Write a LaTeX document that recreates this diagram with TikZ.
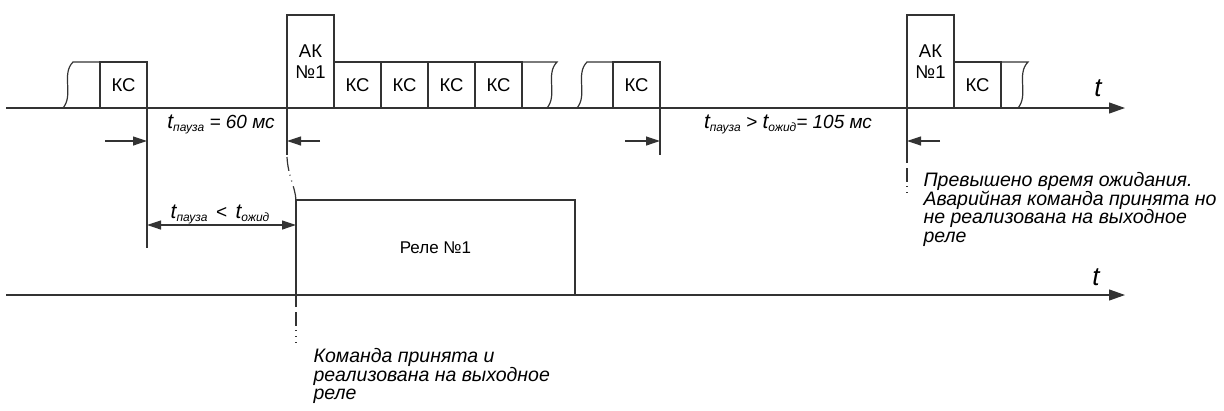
\documentclass[tikz,border=0pt]{standalone}
\usepackage{fontspec}
\setmainfont{Liberation Sans}
\usetikzlibrary{arrows.meta}
\newcommand{\tsub}[1]{{\fontsize{21}{21}\selectfont\itshape t}\raisebox{-3.5pt}{\fontsize{12}{12}\selectfont\itshape #1}}

\begin{document}
\begin{tikzpicture}[x=1pt, y=1pt, line width=1.2pt, draw=black!80,
    frame/.style={draw, minimum width=47pt, minimum height=46pt, inner sep=0pt, outer sep=0pt,
        anchor=south west, font=\fontsize{18.5}{18.5}\selectfont},
    akframe/.style={frame, minimum height=93pt, align=center, font=\fontsize{18.5}{21}\selectfont},
    axis/.style={-{Triangle[length=16pt,width=11pt]}},
    dim/.style={-{Triangle[length=14pt,width=9pt]}},
    dimboth/.style={{Triangle[length=14pt,width=9pt]}-{Triangle[length=14pt,width=9pt]}},
    dashdot/.style={dash pattern=on 14pt off 4pt on 1pt off 5pt on 1pt off 5pt},
    dimtext/.style={inner sep=0pt, anchor=base, font=\fontsize{19}{19}\selectfont\itshape},
    note/.style={anchor=north west, align=left, inner sep=0pt,
        font=\fontsize{19.5}{18.5}\selectfont\itshape},
    tlabel/.style={inner sep=0pt, font=\fontsize{26}{26}\selectfont\itshape}]
    \useasboundingbox (0,0) rectangle (1224,-410);

    \draw[axis] (6,-108) -- (1125,-108);
    \node[tlabel] (t1) at (1098,-88) {t};
    \draw[axis] (6,-295) -- (1125,-295);
    \node[tlabel] (t2) at (1096,-277) {t};

    \node[frame] (kc1) at (100,-108) {КС};
    \node[akframe] (ak1) at (287,-108) {АК\\№1};
    \node[frame] (kc2) at (ak1.south east) {КС};
    \node[frame] (kc3) at (kc2.south east) {КС};
    \node[frame] (kc4) at (kc3.south east) {КС};
    \node[frame] (kc5) at (kc4.south east) {КС};
    \node[frame] (kc6) at (613,-108) {КС};
    \node[akframe] (ak2) at (907,-108) {АК\\№1};
    \node[frame] (kc7) at (ak2.south east) {КС};

    \draw (63,-108) .. controls (74,-95) and (61,-74) .. (73,-62) -- (kc1.north west);
    \draw (kc5.north east) -- (557,-62) .. controls (545,-74) and (558,-95) .. (547,-108);
    \draw (577,-108) .. controls (588,-95) and (575,-74) .. (587,-62) -- (kc6.north west);
    \draw (kc7.north east) -- (1028,-62) .. controls (1016,-74) and (1029,-95) .. (1018,-108);

    \node[minimum width=279pt, minimum height=95pt, inner sep=0pt, outer sep=0pt, anchor=south west,
        font=\fontsize{17}{17}\selectfont] (rele) at (296,-295) {Реле №1};
    \draw (296,-307) -- (rele.north west) -- (rele.north east) -- (rele.south east);
    \draw[dashdot] (296,-312) -- (296,-343);

    \draw (kc1.south east) -- ++(0,-140);
    \draw (ak1.south west) -- ++(0,-47);
    \draw[dashdot] (287,-157) .. controls (288,-176) and (295,-186) .. (rele.north west);
    \draw[dim] (105,-141) -- (147,-141);
    \draw[dim] (320,-141) -- (287,-141);
    \node[dimtext] (l1) at (221,-128) {\tsub{пауза} = 60 мс};

    \draw[dimboth] (147,-225) -- (296,-225);
    \node[dimtext] (l2) at (220,-218) {\tsub{пауза} \,<\, \tsub{ожид}};

    \draw (kc6.south east) -- ++(0,-47);
    \draw (ak2.south west) -- ++(0,-55);
    \draw[dashdot] (907,-168) -- (907,-197);
    \draw[dim] (625,-141) -- (660,-141);
    \draw[dim] (940,-141) -- (907,-141);
    \node[dimtext] (l3) at (788,-128) {\tsub{пауза} > \tsub{ожид}= 105 мс};

    \node[note] (n1) at (313,-348) {Команда принята и\\реализована на выходное\\реле};
    \node[note] (n2) at (923,-172) {Превышено время ожидания.\\Аварийная команда принята но\\не реализована на выходное\\реле};
\end{tikzpicture}
\end{document}
